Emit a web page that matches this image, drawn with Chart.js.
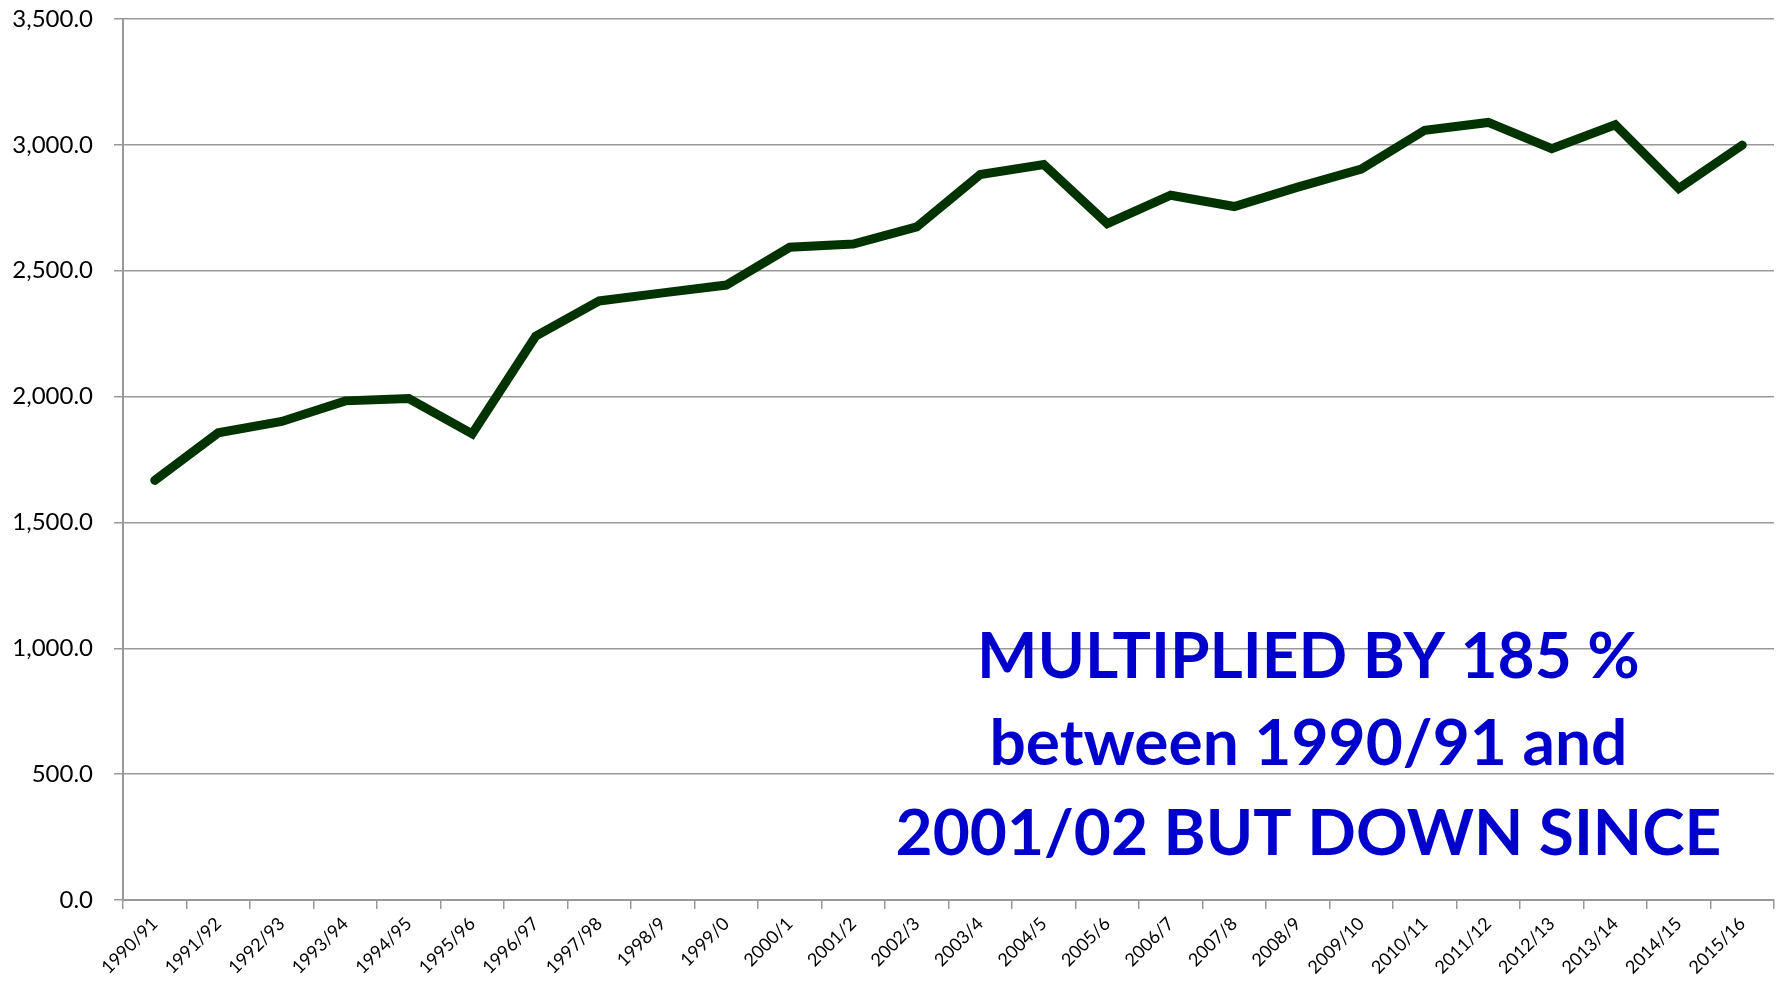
<!DOCTYPE html>
<html>
<head>
<meta charset="utf-8">
<script src="https://cdn.jsdelivr.net/npm/chart.js@4.4.1/dist/chart.umd.min.js"></script>
<style>
  html, body { margin: 0; padding: 0; background: #fff; }
  #wrap { width: 1783px; height: 982px; position: relative; }
</style>
</head>
<body>
<div id="wrap"><canvas id="chart"></canvas></div>
<script>
// Years (financial years) on the x axis
const years = ['1990/91', '1991/92', '1992/93', '1993/94', '1994/95', '1995/96', '1996/97',
  '1997/98', '1998/9', '1999/0', '2000/1', '2001/2', '2002/3', '2003/4', '2004/5', '2005/6',
  '2006/7', '2007/8', '2008/9', '2009/10', '2010/11', '2011/12', '2012/13', '2013/14',
  '2014/15', '2015/16'];

// Values
const values = [1667, 1856, 1901, 1983, 1992, 1852, 2240, 2380, 2412, 2443, 2593, 2606,
  2674, 2882, 2922, 2687, 2800, 2755, 2832, 2904, 3058, 3089, 2985, 3080, 2827, 2999];

// Annotation lines
const noteLines = ['MULTIPLIED BY 185 %', 'between 1990/91 and', '2001/02 BUT DOWN SINCE'];

const gridGray = '#999999';

// Draws the blue annotation in the lower right of the plot
const notePlugin = {
  id: 'note',
  afterDraw(chart) {
    const ctx = chart.ctx;
    const area = chart.chartArea;
    const cx = area.left + (area.right - area.left) * 0.718;
    ctx.save();
    ctx.fillStyle = '#0000CC';
    ctx.font = 'bold 64px Lato';
    ctx.textAlign = 'center';
    ctx.textBaseline = 'alphabetic';
    const baselines = [678, 765, 855];
    noteLines.forEach(function(line, i) {
      ctx.fillText(line, cx, baselines[i]);
    });
    ctx.restore();
  }
};

const ctx = document.getElementById('chart').getContext('2d');
new Chart(ctx, {
  type: 'line',
  data: {
    labels: years,
    datasets: [{
      data: values,
      borderColor: '#003300',
      borderWidth: 9,
      pointRadius: 0,
      tension: 0,
      fill: false,
      borderJoinStyle: 'miter',
      borderCapStyle: 'round'
    }]
  },
  options: {
    responsive: true,
    maintainAspectRatio: false,
    animation: false,
    layout: {
      padding: { top: 19, right: 9, left: 0, bottom: 0 }
    },
    plugins: {
      legend: { display: false },
      tooltip: { enabled: false }
    },
    scales: {
      x: {
        offset: true,
        grid: {
          offset: true,
          drawOnChartArea: false,
          drawTicks: true,
          tickLength: 9,
          color: gridGray,
          lineWidth: 1.5
        },
        border: { color: gridGray, width: 2 },
        ticks: {
          color: '#000',
          font: { family: 'Lato', size: 18 },
          maxRotation: 45,
          minRotation: 45,
          autoSkip: false,
          padding: 4
        },
        afterFit(scale) {
          scale.height = 82;
          scale.paddingLeft = 0;
          scale.paddingRight = 0;
        }
      },
      y: {
        min: 0,
        max: 3500,
        grid: {
          color: gridGray,
          lineWidth: 1.5,
          tickLength: 9
        },
        border: { color: gridGray, width: 2 },
        ticks: {
          stepSize: 500,
          color: '#000',
          font: { family: 'Lato', size: 24 },
          padding: 21,
          callback: function(v) {
            return v.toLocaleString('en-US', { minimumFractionDigits: 1, maximumFractionDigits: 1 });
          }
        },
        afterFit(scale) {
          scale.width = 123;
          scale.paddingTop = 0;
          scale.paddingBottom = 0;
        }
      }
    }
  },
  plugins: [notePlugin]
});
</script>
</body>
</html>
